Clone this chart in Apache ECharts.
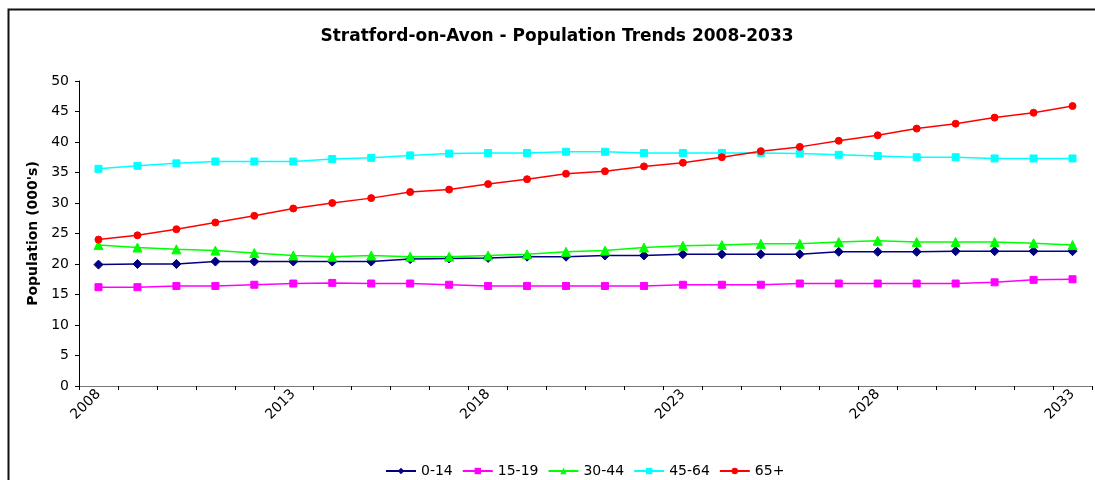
<!DOCTYPE html>
<html>
<head>
<meta charset="utf-8">
<script src="https://cdn.jsdelivr.net/npm/echarts@6/dist/echarts.min.js"></script>
<style>
  html, body { margin: 0; padding: 0; background: #fff; overflow: hidden; }
  #chart { width: 1095px; height: 480px; }
</style>
</head>
<body>
<div id="chart"></div>
<script>
// Years shown on the category axis
const years = ['2008','2009','2010','2011','2012','2013','2014','2015','2016','2017','2018','2019','2020',
               '2021','2022','2023','2024','2025','2026','2027','2028','2029','2030','2031','2032','2033'];

// Population by age band, thousands
const age0to14 = [19.9, 20.0, 20.0, 20.4, 20.4, 20.4, 20.4, 20.4, 20.8, 20.9, 21.0, 21.2, 21.2,
                  21.4, 21.4, 21.6, 21.6, 21.6, 21.6, 22.0, 22.0, 22.0, 22.1, 22.1, 22.1, 22.1];
const age15to19 = [16.2, 16.2, 16.4, 16.4, 16.6, 16.8, 16.9, 16.8, 16.8, 16.6, 16.4, 16.4, 16.4,
                   16.4, 16.4, 16.6, 16.6, 16.6, 16.8, 16.8, 16.8, 16.8, 16.8, 17.0, 17.4, 17.5];
const age30to44 = [23.1, 22.7, 22.4, 22.2, 21.8, 21.4, 21.2, 21.4, 21.2, 21.2, 21.4, 21.6, 22.0,
                   22.2, 22.7, 23.0, 23.1, 23.3, 23.3, 23.6, 23.8, 23.6, 23.6, 23.6, 23.4, 23.1];
const age45to64 = [35.6, 36.1, 36.5, 36.8, 36.8, 36.8, 37.2, 37.4, 37.8, 38.1, 38.2, 38.2, 38.4,
                   38.4, 38.2, 38.2, 38.2, 38.2, 38.1, 37.9, 37.7, 37.5, 37.5, 37.3, 37.3, 37.3];
const age65plus = [24.0, 24.7, 25.7, 26.8, 27.9, 29.1, 30.0, 30.8, 31.8, 32.2, 33.1, 33.9, 34.8,
                   35.2, 36.0, 36.6, 37.5, 38.5, 39.2, 40.2, 41.1, 42.2, 43.0, 44.0, 44.8, 45.9];

const seriesDefs = [
  { name: '0-14',  data: age0to14,  color: '#000080', symbol: 'diamond',  size: 9 },
  { name: '15-19', data: age15to19, color: '#FF00FF', symbol: 'rect',     size: 7 },
  { name: '30-44', data: age30to44, color: '#00FF00', symbol: 'triangle', size: 9 },
  { name: '45-64', data: age45to64, color: '#00FFFF', symbol: 'rect',     size: 7 },
  { name: '65+',   data: age65plus, color: '#FF0000', symbol: 'circle',   size: 7 }
];

const FONT = '"DejaVu Sans", Verdana, sans-serif';

const chart = echarts.init(document.getElementById('chart'), null, { renderer: 'canvas' });

chart.setOption({
  backgroundColor: '#fff',
  animation: false,
  textStyle: { fontFamily: FONT },
  // chart frame: only the top and left edges fall inside the page
  graphic: [{
    type: 'polyline',
    shape: { points: [[8.5, 480], [8.5, 9.5], [1095, 9.5]] },
    style: { fill: null, stroke: '#111', lineWidth: 2 },
    silent: true, z: -1
  }],
  title: {
    text: 'Stratford-on-Avon - Population Trends 2008-2033',
    left: 552, top: 23, textAlign: 'center',
    textStyle: { fontFamily: FONT, fontSize: 17, fontWeight: 'bold', color: '#000' }
  },
  legend: {
    top: 459, left: 380,
    itemWidth: 30, itemHeight: 8, itemGap: 9,
    textStyle: { fontFamily: FONT, fontSize: 14, color: '#000' },
    data: seriesDefs.map(s => s.name)
  },
  grid: { left: 79, right: 3, top: 81, bottom: 94, containLabel: false },
  xAxis: {
    type: 'category',
    data: years,
    boundaryGap: true,
    axisLine: { lineStyle: { color: '#777', width: 1 } },
    axisTick: { show: true, interval: 0, length: 4, lineStyle: { color: '#000' } },
    axisLabel: {
      interval: 4, rotate: 45, fontFamily: FONT, fontSize: 14, color: '#000', margin: 6
    },
    splitLine: { show: false }
  },
  yAxis: {
    type: 'value',
    min: 0, max: 50, interval: 5,
    name: "Population (000's)",
    nameLocation: 'middle', nameGap: 38, nameRotate: 90,
    nameTextStyle: { fontFamily: FONT, fontSize: 14, fontWeight: 'bold', color: '#000' },
    axisLine: { show: true, lineStyle: { color: '#000', width: 1 } },
    axisTick: { show: true, length: 4, lineStyle: { color: '#000' } },
    axisLabel: { fontFamily: FONT, fontSize: 14, color: '#000', margin: 10 },
    splitLine: { show: false }
  },
  series: seriesDefs.map(s => ({
    name: s.name,
    type: 'line',
    data: s.data,
    symbol: s.symbol,
    symbolSize: s.size,
    showAllSymbol: true,
    lineStyle: { color: s.color, width: 1.5 },
    itemStyle: { color: s.color, borderColor: s.color },
    emphasis: { disabled: true }
  }))
});
</script>
</body>
</html>
